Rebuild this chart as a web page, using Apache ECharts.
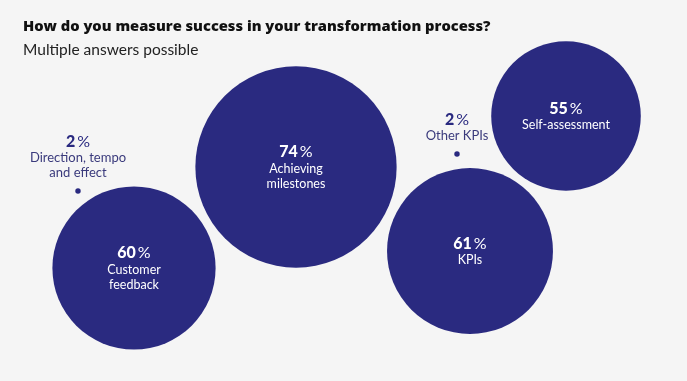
<!DOCTYPE html>
<html>
<head>
<meta charset="utf-8">
<script src="https://cdn.jsdelivr.net/npm/echarts@6/dist/echarts.min.js"></script>
<style>
html,body{margin:0;padding:0;background:#f5f5f5;}
#chart{width:687px;height:381px;}
</style>
</head>
<body>
<div id="chart"></div>
<script>
// Data
const categories = ['Direction, tempo\nand effect', 'Customer\nfeedback', 'Achieving\nmilestones', 'Other KPIs', 'KPIs', 'Self-assessment'];
const values = [2, 60, 74, 2, 61, 55];
// Layout (bubble centre positions, in pixel-space of the hidden axes)
const layoutX = [78, 134, 296, 457, 470, 566];
const layoutY = [191, 268, 167, 154, 251, 116];

const FONT = 'Lato, "Open Sans", sans-serif';
const NAVY = '#2a2a80';

const chart = echarts.init(document.getElementById('chart'));

function makeLabel(i) {
  const v = values[i];
  const lines = categories[i].split('\n');
  const small = v < 10;
  if (small) {
    return {
      show: true,
      position: 'top',
      distance: 8,
      formatter: '{n|' + v + '}{p|%}\n' + lines.map(l => '{o|' + l + '}').join('\n'),
      rich: {
        n: {fontFamily: FONT, fontWeight: 900, fontSize: 16, color: NAVY, lineHeight: 17, padding:[0,2,0,0]},
        p: {fontFamily: FONT, fontWeight: 400, fontSize: 16, color: NAVY, lineHeight: 17},
        o: {fontFamily: FONT, fontWeight: 400, fontSize: 13, color: '#3a3a7c', lineHeight: 15, align: 'center'}
      }
    };
  }
  return {
    show: true,
    position: 'inside',
    formatter: '{n|' + v + '}{p|%}\n' + lines.map(l => '{t|' + l + '}').join('\n'),
    rich: {
      n: {fontFamily: FONT, fontWeight: 900, fontSize: 16, color: '#ffffff', lineHeight: 18, padding:[0,2,0,0]},
      p: {fontFamily: FONT, fontWeight: 400, fontSize: 16, color: '#ffffff', lineHeight: 18},
      t: {fontFamily: FONT, fontWeight: 400, fontSize: 12.5, color: '#ffffff', lineHeight: 15, align: 'center'}
    }
  };
}

const data = values.map((v, i) => ({
  value: [layoutX[i], layoutY[i], v],
  name: categories[i],
  label: makeLabel(i)
}));

chart.setOption({
  backgroundColor: '#f5f5f5',
  animation: false,
  title: {
    text: 'How do you measure success in your transformation process?',
    subtext: 'Multiple answers possible',
    left: 23,
    top: 19,
    padding: 0,
    itemGap: 8,
    textStyle: {fontFamily: '"Open Sans", sans-serif', fontWeight: 800, fontSize: 14.7, color: '#111111'},
    subtextStyle: {fontFamily: FONT, fontWeight: 400, fontSize: 15.5, color: '#222222'}
  },
  grid: {left: 0, right: 0, top: 0, bottom: 0},
  xAxis: {type: 'value', min: 0, max: 687, show: false},
  yAxis: {type: 'value', min: 0, max: 381, inverse: true, show: false},
  series: [{
    type: 'scatter',
    data: data,
    symbol: 'circle',
    symbolSize: v => v[2] * 2.72,
    itemStyle: {color: NAVY, opacity: 1},
    emphasis: {disabled: true}
  }]
});
</script>
</body>
</html>
